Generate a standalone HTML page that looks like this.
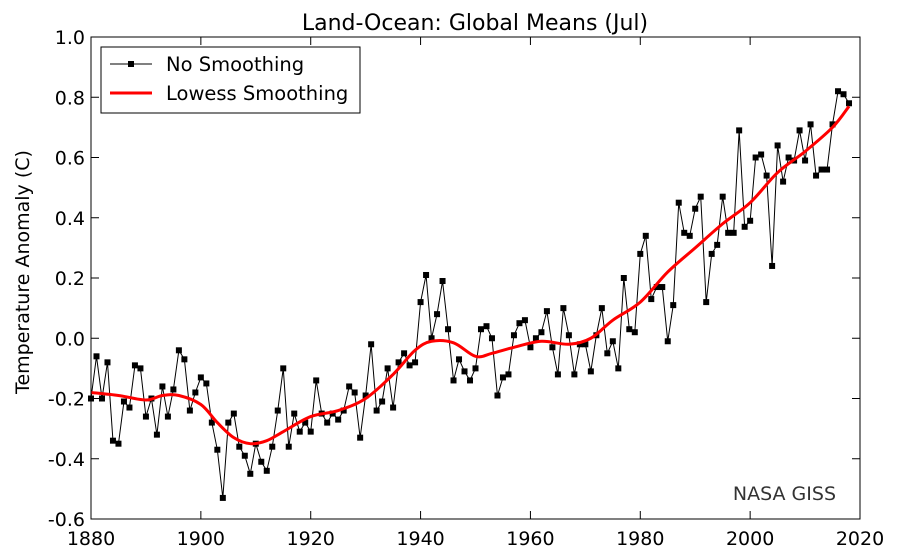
<!DOCTYPE html>
<html><head><meta charset="utf-8"><style>
body{margin:0;background:#fff;}
svg{display:block;font-family:"DejaVu Sans","Liberation Sans",sans-serif;}
</style></head><body>
<svg id="s" width="899" height="557" xmlns="http://www.w3.org/2000/svg"></svg>
<script>
const d=[-0.20,-0.06,-0.20,-0.08,-0.34,-0.35,-0.21,-0.23,-0.09,-0.10,-0.26,-0.20,-0.32,-0.16,-0.26,-0.17,-0.04,-0.07,-0.24,-0.18,
-0.13,-0.15,-0.28,-0.37,-0.53,-0.28,-0.25,-0.36,-0.39,-0.45,-0.35,-0.41,-0.44,-0.36,-0.24,-0.10,-0.36,-0.25,-0.31,-0.28,
-0.31,-0.14,-0.25,-0.28,-0.25,-0.27,-0.24,-0.16,-0.18,-0.33,-0.19,-0.02,-0.24,-0.21,-0.10,-0.23,-0.08,-0.05,-0.09,-0.08,
0.12,0.21,0.00,0.08,0.19,0.03,-0.14,-0.07,-0.11,-0.14,-0.10,0.03,0.04,0.00,-0.19,-0.13,-0.12,0.01,0.05,0.06,
-0.03,0.00,0.02,0.09,-0.03,-0.12,0.10,0.01,-0.12,-0.02,-0.02,-0.11,0.01,0.10,-0.05,-0.01,-0.10,0.20,0.03,0.02,
0.28,0.34,0.13,0.17,0.17,-0.01,0.11,0.45,0.35,0.34,0.43,0.47,0.12,0.28,0.31,0.47,0.35,0.35,0.69,0.37,
0.39,0.60,0.61,0.54,0.24,0.64,0.52,0.60,0.59,0.69,0.59,0.71,0.54,0.56,0.56,0.71,0.82,0.81,0.78];
const sm=[[1880,-0.18],[1885,-0.19],[1890,-0.205],[1893,-0.19],[1896,-0.19],[1900,-0.22],[1903,-0.28],[1906,-0.33],[1909,-0.35],[1912,-0.34],[1915,-0.31],[1920,-0.26],[1925,-0.24],[1930,-0.20],[1935,-0.12],[1939,-0.04],[1942,-0.01],[1946,-0.015],[1950,-0.06],[1953,-0.05],[1957,-0.03],[1962,-0.01],[1967,-0.02],[1971,0.00],[1975,0.06],[1980,0.12],[1985,0.22],[1990,0.30],[1995,0.38],[2000,0.45],[2005,0.55],[2010,0.62],[2015,0.70],[2018,0.77]];
const L=91,R=860,T=37,B=519;
const X=y=>L+(y-1880)*(R-L)/140, Y=v=>338.25-v*301.25;
let h='';
h+=`<text x="475" y="30" font-size="22" text-anchor="middle">Land-Ocean: Global Means (Jul)</text>`;
h+=`<text transform="translate(29,272) rotate(-90)" font-size="19" text-anchor="middle">Temperature Anomaly (C)</text>`;
for(let yr=1880;yr<=2020;yr+=20){const x=X(yr);h+=`<line x1="${x}" y1="${B}" x2="${x}" y2="${B-8}" stroke="#000"/><line x1="${x}" y1="${T}" x2="${x}" y2="${T+8}" stroke="#000"/><text x="${x}" y="545" font-size="19" text-anchor="middle">${yr}</text>`;}
for(let i=0;i<=8;i++){const v=-0.6+i*0.2,y=Y(v);h+=`<line x1="${L}" y1="${y}" x2="${L+8}" y2="${y}" stroke="#000"/><line x1="${R}" y1="${y}" x2="${R-8}" y2="${y}" stroke="#000"/><text x="${L-6}" y="${y+7}" font-size="19" text-anchor="end">${(Math.abs(v)<1e-9?0:v).toFixed(1)}</text>`;}
h+=`<polyline fill="none" stroke="#000" stroke-width="1" points="${d.map((v,i)=>X(1880+i)+','+Y(v)).join(' ')}"/>`;
d.forEach((v,i)=>{h+=`<rect x="${X(1880+i)-3}" y="${Y(v)-3}" width="6" height="6" fill="#000"/>`;});
let p='M'+X(sm[0][0])+','+Y(sm[0][1]);
for(let i=0;i<sm.length-1;i++){const a=sm[Math.max(0,i-1)],b=sm[i],c=sm[i+1],e=sm[Math.min(sm.length-1,i+2)];
const bx=X(b[0]),by=Y(b[1]),cx=X(c[0]),cy=Y(c[1]);
const c1x=bx+(cx-X(a[0]))/6,c1y=by+(cy-Y(a[1]))/6,c2x=cx-(X(e[0])-bx)/6,c2y=cy-(Y(e[1])-by)/6;
p+=` C${c1x},${c1y} ${c2x},${c2y} ${cx},${cy}`;}
h+=`<path d="${p}" fill="none" stroke="#f00" stroke-width="3"/>`;
h+=`<rect x="${L}" y="${T}" width="${R-L}" height="${B-T}" fill="none" stroke="#000"/>`;
h+=`<rect x="101" y="47" width="259" height="66" fill="#fff" stroke="#000"/>`;
h+=`<line x1="110" y1="64" x2="152" y2="64" stroke="#000"/><rect x="128" y="61" width="6" height="6"/>`;
h+=`<text x="166" y="71" font-size="19.5">No Smoothing</text>`;
h+=`<line x1="110" y1="93" x2="152" y2="93" stroke="#f00" stroke-width="3"/>`;
h+=`<text x="166" y="100" font-size="19.5">Lowess Smoothing</text>`;
h+=`<text x="836" y="500" font-size="19" fill="#333" text-anchor="end">NASA GISS</text>`;
document.getElementById('s').innerHTML=h;
</script>
</body></html>
